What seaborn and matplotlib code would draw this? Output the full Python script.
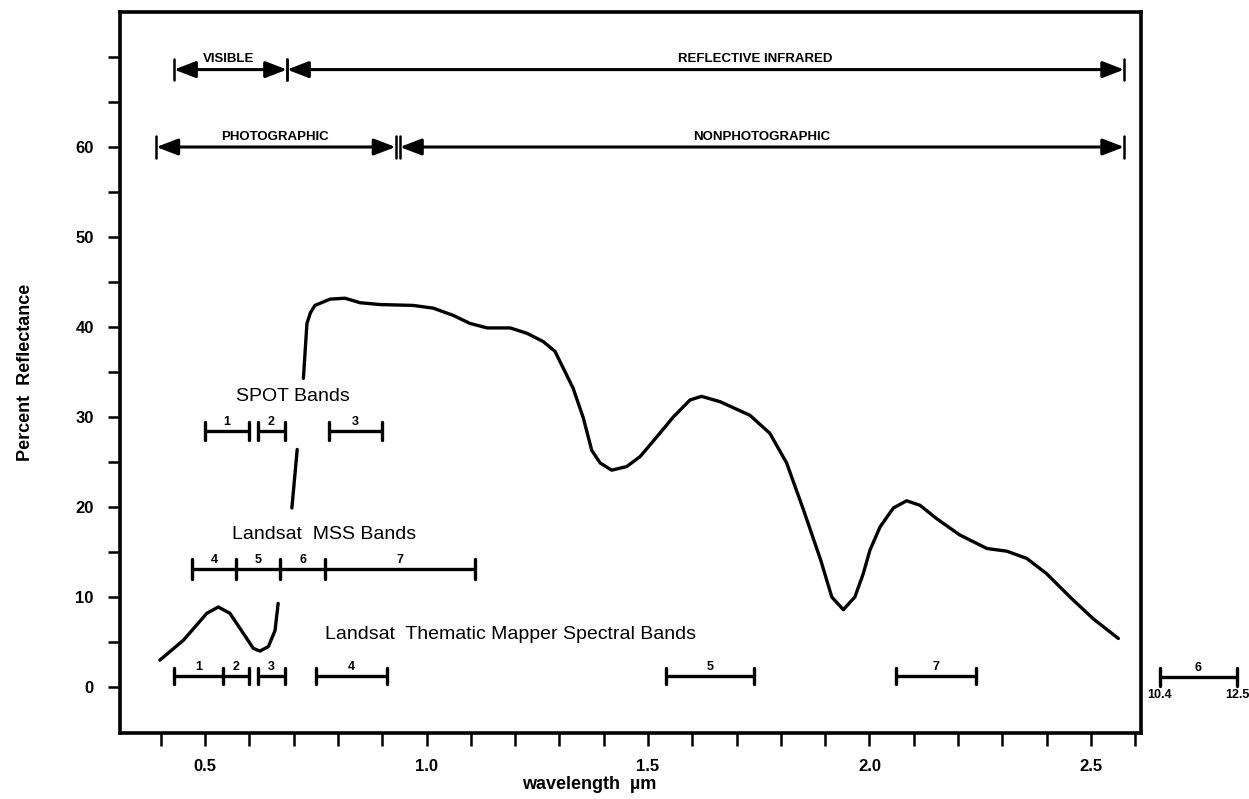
import numpy as np
import pandas as pd
import matplotlib
matplotlib.use("Agg")
import matplotlib.pyplot as plt
from matplotlib.ticker import MultipleLocator, FixedLocator, FuncFormatter
import seaborn as sns

# ---------------- data ----------------
# vegetation reflectance curve, drawn in three pieces (the original leaves gaps for the band labels)
wl_seg1 = [0.398, 0.451, 0.504, 0.530, 0.556, 0.586, 0.609, 0.624, 0.643, 0.658, 0.665]
rf_seg1 = [3.0, 5.2, 8.2, 8.9, 8.2, 6.0, 4.3, 4.0, 4.5, 6.3, 9.3]
wl_seg2 = [0.696, 0.708]
rf_seg2 = [19.9, 26.4]
wl_seg3 = [0.722, 0.730, 0.738, 0.748, 0.782, 0.816, 0.850, 0.895, 0.970, 1.015, 1.060, 1.098,
           1.137, 1.189, 1.227, 1.263, 1.290, 1.331, 1.354, 1.373, 1.392, 1.418, 1.452, 1.482,
           1.520, 1.557, 1.595, 1.621, 1.663, 1.730, 1.775, 1.813, 1.851, 1.890, 1.915, 1.941,
           1.967, 1.986, 2.001, 2.024, 2.054, 2.084, 2.114, 2.152, 2.204, 2.265, 2.310, 2.355,
           2.400, 2.453, 2.505, 2.562]
rf_seg3 = [34.3, 40.4, 41.6, 42.4, 43.1, 43.2, 42.7, 42.5, 42.4, 42.1, 41.3, 40.4,
           39.9, 39.9, 39.3, 38.4, 37.3, 33.2, 29.9, 26.3, 24.9, 24.1, 24.5, 25.6,
           27.8, 30.0, 31.9, 32.3, 31.7, 30.2, 28.2, 24.9, 19.7, 14.1, 10.0, 8.6,
           10.0, 12.6, 15.2, 17.8, 19.9, 20.7, 20.2, 18.7, 16.9, 15.4, 15.1, 14.3,
           12.6, 10.0, 7.6, 5.4]

# sensor bands (wavelength limits, um)
tm_names = ["1", "2", "3", "4", "5", "7"]
tm_start = [0.43, 0.54, 0.62, 0.75, 1.54, 2.06]
tm_end = [0.54, 0.60, 0.68, 0.91, 1.74, 2.24]
tm6_name = "6"
tm6_range = ["10.4", "12.5"]

mss_names = ["4", "5", "6", "7"]
mss_start = [0.47, 0.57, 0.67, 0.77]
mss_end = [0.57, 0.67, 0.77, 1.11]

spot_names = ["1", "2", "3"]
spot_start = [0.50, 0.62, 0.78]
spot_end = [0.60, 0.68, 0.90]

# spectral regions
region_names_1 = ["VISIBLE", "REFLECTIVE INFRARED"]
region_start_1 = [0.43, 0.685]
region_end_1 = [0.685, 2.575]
region_names_2 = ["PHOTOGRAPHIC", "NONPHOTOGRAPHIC"]
region_start_2 = [0.39, 0.94]
region_end_2 = [0.93, 2.575]

x_major = [0.5, 1.0, 1.5, 2.0, 2.5]
y_major = [0, 10, 20, 30, 40, 50, 60]

# ---------------- figure ----------------
sns.set_theme(style="ticks")
plt.rcParams["font.family"] = ["Liberation Sans", "DejaVu Sans"]
plt.rcParams.update({"text.color": "black", "axes.labelcolor": "black",
                     "xtick.color": "black", "ytick.color": "black",
                     "axes.edgecolor": "black"})

fig = plt.figure(figsize=(12.49, 7.99), dpi=100)
ax = fig.add_axes([0.0961, 0.0826, 0.8174, 0.9024])

curve = pd.concat([
    pd.DataFrame({"wavelength": wl_seg1, "reflectance": rf_seg1, "segment": 1}),
    pd.DataFrame({"wavelength": wl_seg2, "reflectance": rf_seg2, "segment": 2}),
    pd.DataFrame({"wavelength": wl_seg3, "reflectance": rf_seg3, "segment": 3}),
])
sns.lineplot(data=curve, x="wavelength", y="reflectance", units="segment", estimator=None,
             sort=False, color="black", linewidth=2.4, ax=ax, legend=False,
             solid_joinstyle="round", solid_capstyle="round")

ax.set_xlim(0.308, 2.613)
ax.set_ylim(-5.1, 75)


def draw_bands(names, starts, ends, y, tick_h, lw=2.4, fs=9):
    edges = sorted(set(starts) | set(ends))
    for s, e, n in zip(starts, ends, names):
        ax.plot([s, e], [y, y], color="black", lw=lw, solid_capstyle="butt")
        ax.text((s + e) / 2, y + 0.35, n, ha="center", va="bottom", fontsize=fs,
                fontweight="bold")
    for x in edges:
        ax.plot([x, x], [y - tick_h, y + tick_h], color="black", lw=lw)


draw_bands(tm_names, tm_start, tm_end, 1.2, 0.9)
draw_bands(mss_names, mss_start, mss_end, 13.1, 1.1)
draw_bands(spot_names, spot_start, spot_end, 28.4, 1.0)

# thermal TM band 6, drawn outside the axes (beyond the wavelength scale)
t6x = (2.655, 2.83)
ty = 1.1
ax.plot(t6x, [ty, ty], color="black", lw=2.4, clip_on=False)
for x in t6x:
    ax.plot([x, x], [ty - 1.0, ty + 1.0], color="black", lw=2.4, clip_on=False)
ax.text(sum(t6x) / 2, ty + 0.35, tm6_name, ha="center", va="bottom", fontsize=9,
        fontweight="bold", clip_on=False)
for x, lab in zip(t6x, tm6_range):
    ax.text(x, ty - 1.3, lab, ha="center", va="top", fontsize=9, fontweight="bold")

ax.text(0.570, 32.3, "SPOT Bands", ha="left", va="center", fontsize=14)
ax.text(0.561, 16.9, "Landsat  MSS Bands", ha="left", va="center", fontsize=14)
ax.text(0.771, 5.8, "Landsat  Thematic Mapper Spectral Bands", ha="left", va="center",
        fontsize=14)


def draw_regions(names, starts, ends, y, label_x):
    for s, e, n, lx in zip(starts, ends, names, label_x):
        ax.annotate("", xy=(e, y), xytext=(s, y),
                    arrowprops=dict(arrowstyle="<|-|>,head_length=1.3,head_width=0.5",
                                    color="black", lw=2.2, shrinkA=0, shrinkB=0,
                                    mutation_scale=10))
        for x in (s, e):
            ax.plot([x, x], [y - 1.2, y + 1.2], color="black", lw=1.8)
        ax.text(lx, y + 0.5, n, ha="center", va="bottom", fontsize=9.5, fontweight="bold")


draw_regions(region_names_1, region_start_1, region_end_1, 68.6, [0.552, 1.742])
draw_regions(region_names_2, region_start_2, region_end_2, 60.0, [0.658, 1.757])

# axes styling
ax.xaxis.set_major_locator(FixedLocator(x_major))
ax.xaxis.set_minor_locator(MultipleLocator(0.1))
ax.xaxis.set_major_formatter(FuncFormatter(lambda v, p: f"{v:.1f}"))
ax.yaxis.set_major_locator(FixedLocator(y_major))
ax.yaxis.set_minor_locator(FixedLocator([5, 15, 25, 35, 45, 55, 65, 70]))
ax.tick_params(which="both", direction="out", length=9, width=1.8, color="black")
ax.tick_params(which="major", labelsize=12, pad=10, labelcolor="black")
for lab in ax.get_xticklabels() + ax.get_yticklabels():
    lab.set_fontweight("bold")
for sp in ax.spines.values():
    sp.set_visible(True)
    sp.set_linewidth(2.6)
    sp.set_color("black")

ax.set_xlabel("wavelength  \u00b5m", fontsize=13, fontweight="bold", color="black")
ax.xaxis.set_label_coords(0.46, -0.06)
ax.set_ylabel("Percent  Reflectance", fontsize=13, fontweight="bold", color="black",
              labelpad=30)

fig.savefig("out.png", dpi=100, facecolor="white")
